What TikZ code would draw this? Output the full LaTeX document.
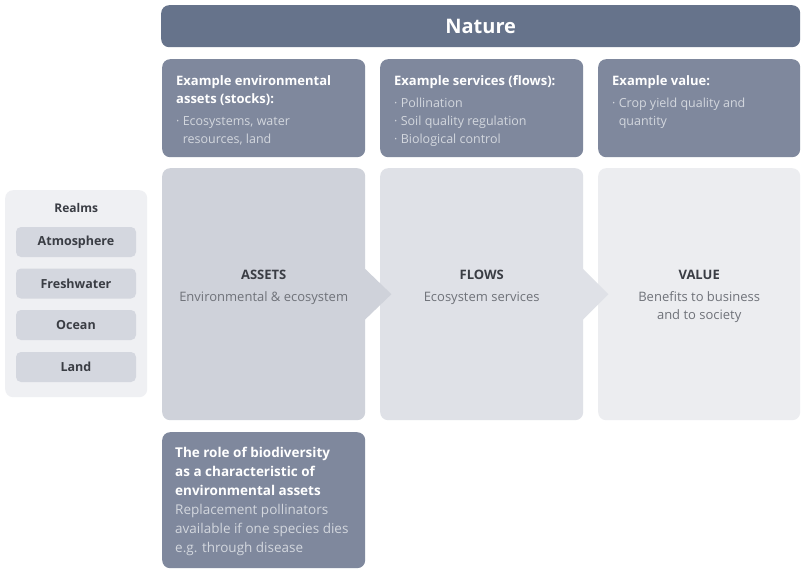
\documentclass[tikz,border=0pt]{standalone}
\usepackage{fontspec}
\setmainfont{Open Sans}
\usetikzlibrary{calc}
\definecolor{naturecol}{HTML}{66738B}
\definecolor{darkbox}{HTML}{7F889D}
\definecolor{lighttext}{HTML}{D3D7DE}
\definecolor{assetcol}{HTML}{CFD2DA}
\definecolor{flowcol}{HTML}{DFE1E7}
\definecolor{valuecol}{HTML}{ECEDF0}
\definecolor{realmcol}{HTML}{EFF0F3}
\definecolor{realmbox}{HTML}{D4D7DF}
\definecolor{darktext}{HTML}{3A3D44}
\definecolor{greytext}{HTML}{6F7279}
\begin{document}
\begin{tikzpicture}[x=1pt,y=-1pt,
  panel/.style={rectangle,rounded corners=8pt,anchor=north west,inner sep=0pt,draw=none},
  realmitem/.style={rectangle,rounded corners=5pt,fill=realmbox,minimum width=120pt,minimum height=30pt,inner sep=0pt,
    font=\fontsize{12.5}{15}\selectfont\bfseries,text=darktext},
  headtxt/.style={anchor=north west,align=left,inner sep=0pt,text=white,font=\fontsize{13}{18}\selectfont},
  maintitle/.style={font=\fontsize{13}{18}\selectfont,align=center,inner sep=0pt}
]
\useasboundingbox (0,0) rectangle (801,570);
\fill[white] (0,0) rectangle (801,570);

% Nature bar
\node[panel,fill=naturecol,minimum width=639pt,minimum height=42pt] (nature) at (161,5) {};
\node[text=white,font=\fontsize{20}{24}\selectfont\bfseries] (naturet) at (nature.center) {Nature};

% top example boxes
\node[panel,fill=darkbox,minimum width=203pt,minimum height=98pt] (ex1) at (162,59) {};
\node[panel,fill=darkbox,minimum width=203pt,minimum height=98pt] (ex2) at (380,59) {};
\node[panel,fill=darkbox,minimum width=202pt,minimum height=98pt] (ex3) at (598,59) {};

\node[headtxt] (ex1t) at ($(ex1.north west)+(14,16)$) {\textbf{Example environmental}\\\textbf{assets (stocks):}\\[4pt]
  {\color{lighttext}\fontsize{12.5}{18}\selectfont · Ecosystems, water}\\
  {\color{lighttext}\fontsize{12.5}{18}\selectfont \hphantom{· }resources, land}};
\node[headtxt] (ex2t) at ($(ex2.north west)+(14,16)$) {\textbf{Example services (flows):}\\[4pt]
  {\color{lighttext}\fontsize{12.5}{18}\selectfont · Pollination}\\
  {\color{lighttext}\fontsize{12.5}{18}\selectfont · Soil quality regulation}\\
  {\color{lighttext}\fontsize{12.5}{18}\selectfont · Biological control}};
\node[headtxt] (ex3t) at ($(ex3.north west)+(14,16)$) {\textbf{Example value:}\\[4pt]
  {\color{lighttext}\fontsize{12.5}{18}\selectfont · Crop yield quality and}\\
  {\color{lighttext}\fontsize{12.5}{18}\selectfont \hphantom{· }quantity}};

% main boxes
\node[panel,fill=assetcol,minimum width=203pt,minimum height=252pt] (assets) at (162,168) {};
\node[panel,fill=flowcol,minimum width=203pt,minimum height=252pt] (flows) at (380,168) {};
\node[panel,fill=valuecol,minimum width=202pt,minimum height=252pt] (value) at (598,168) {};

% arrow notches
\fill[assetcol] ($(assets.east)+(-1,-26)$) -- ($(assets.east)+(26,0)$) -- ($(assets.east)+(-1,26)$) -- cycle;
\fill[flowcol] ($(flows.east)+(-1,-26)$) -- ($(flows.east)+(25,0)$) -- ($(flows.east)+(-1,26)$) -- cycle;

\node[maintitle,anchor=north] (assetst) at ($(assets.north)+(0,102)$) {{\bfseries\color{darktext}ASSETS}\\[4pt]{\color{greytext}Environmental \& ecosystem}};
\node[maintitle,anchor=north] (flowst) at ($(flows.north)+(0,102)$) {{\bfseries\color{darktext}FLOWS}\\[4pt]{\color{greytext}Ecosystem services}};
\node[maintitle,anchor=north] (valuet) at ($(value.north)+(0,102)$) {{\bfseries\color{darktext}VALUE}\\[4pt]{\color{greytext}Benefits to business}\\{\color{greytext}and to society}};

% realms
\node[panel,fill=realmcol,minimum width=142pt,minimum height=207pt] (realms) at (5,190) {};
\node[font=\fontsize{12}{15}\selectfont\bfseries,text=darktext] (realmst) at ($(realms.north)+(0,18)$) {Realms};
\node[realmitem] (atm) at (76,242) {Atmosphere};
\node[realmitem] (fresh) at (76,283.5) {Freshwater};
\node[realmitem] (ocean) at (76,325) {Ocean};
\node[realmitem] (land) at (76,367) {Land};

% biodiversity box
\node[panel,fill=darkbox,minimum width=203pt,minimum height=136pt] (bio) at (162,432) {};
\node[headtxt,font=\fontsize{13.5}{19}\selectfont] (biot) at ($(bio.north west)+(13,15)$) {\textbf{The role of biodiversity}\\\textbf{as a characteristic of}\\\textbf{environmental assets}\\
  {\color{lighttext}Replacement pollinators}\\
  {\color{lighttext}available if one species dies}\\
  {\color{lighttext}e.g. through disease}};
\end{tikzpicture}
\end{document}
